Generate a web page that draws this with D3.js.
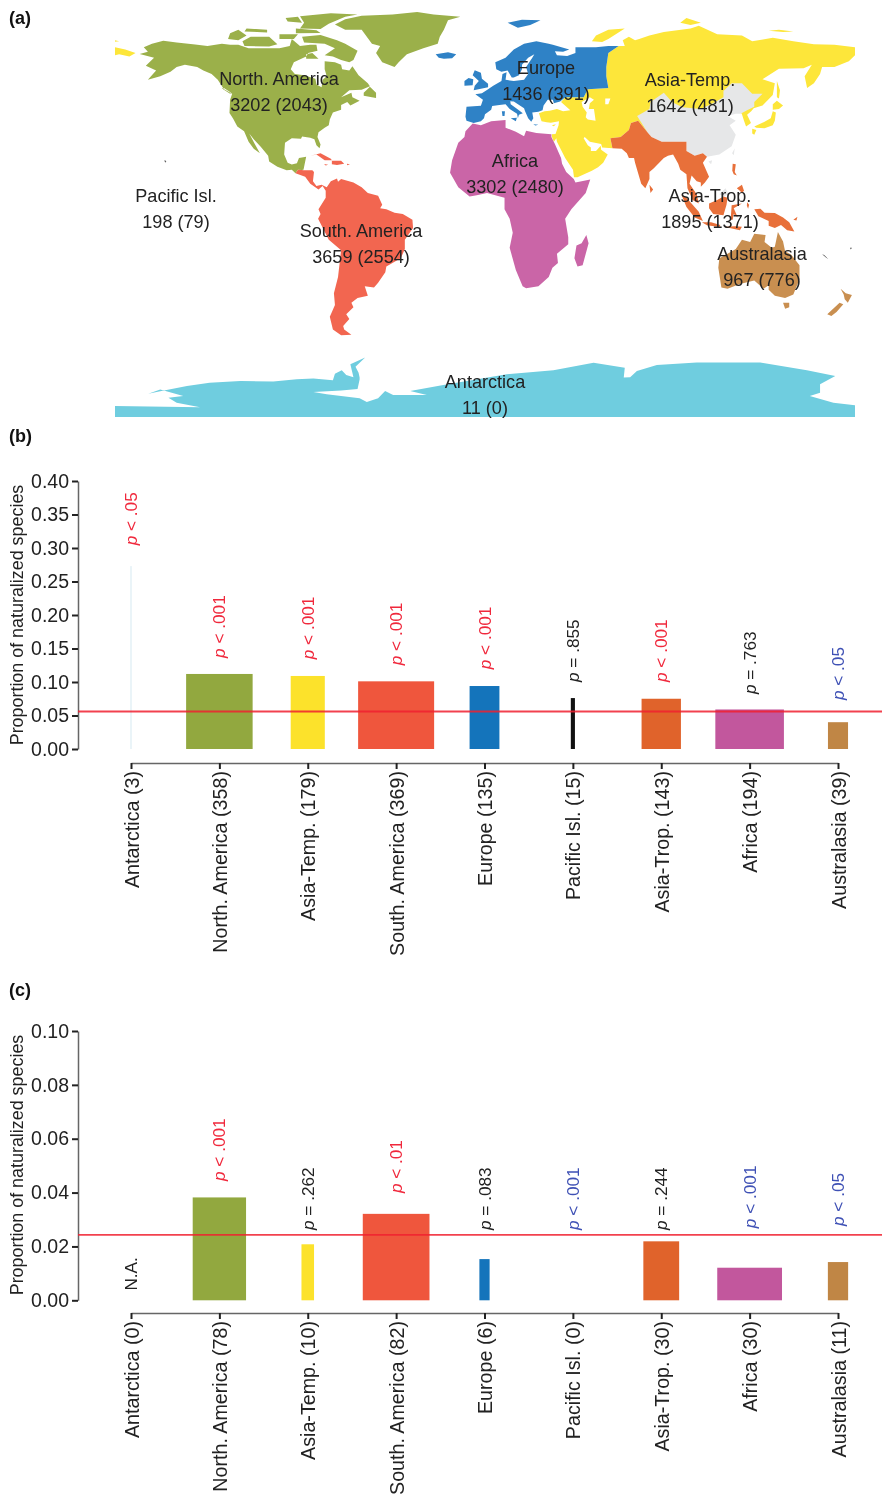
<!DOCTYPE html>
<html>
<head>
<meta charset="utf-8">
<script src="https://cdn.jsdelivr.net/npm/d3@7"></script>
<style>
    html, body { margin: 0; padding: 0; background: #fff; }
    svg { display: block; filter: blur(0.4px); }
    text { font-family: "Liberation Sans", Arial, sans-serif; fill: #222; }
    .axis path.domain { stroke: #666; stroke-width: 1.5; fill: none; }
    .axis .tick line { stroke: #222; stroke-width: 2; }
</style>
</head>
<body>
<div id="chart"></div>
<script>
/* ===== Data ===== */
const regions = ["Antarctica", "North. America", "Asia-Temp.", "South. America", "Europe", "Pacific Isl.", "Asia-Trop.", "Africa", "Australasia"];

// map labels: total (naturalized-source) species per region, also sets bar widths
const totalSpecies = [11, 3202, 1642, 3659, 1436, 198, 1895, 3302, 967];
const subsetSpecies = [0, 2043, 481, 2554, 391, 79, 1371, 2480, 776];

const countsB = [3, 358, 179, 369, 135, 15, 143, 194, 39];
const valuesB = [0.273, 0.112, 0.109, 0.101, 0.094, 0.076, 0.075, 0.059, 0.040];
const pTextB = ["< .05", "< .001", "< .001", "< .001", "< .001", "= .855", "< .001", "= .763", "< .05"];
const pColorB = ["red", "red", "red", "red", "red", "black", "red", "black", "blue"];
const pLevelB = [0.304, 0.136, 0.134, 0.125, 0.119, 0.100, 0.100, 0.082, 0.073];
const meanB = 0.056;
const ticksB = [0, 0.05, 0.10, 0.15, 0.20, 0.25, 0.30, 0.35, 0.40];

const countsC = [0, 78, 10, 82, 6, 0, 30, 30, 11];
const valuesC = [0, 0.0382, 0.0208, 0.0321, 0.0153, 0, 0.0219, 0.0121, 0.0142];
const pTextC = [null, "< .001", "= .262", "< .01", "= .083", "< .001", "= .244", "< .001", "< .05"];
const pColorC = [null, "red", "black", "red", "black", "blue", "black", "blue", "blue"];
const pLevelC = [0.0036, 0.0443, 0.0261, 0.0398, 0.0261, 0.0261, 0.0261, 0.0268, 0.0276];
const meanC = 0.0243;
const ticksC = [0, 0.02, 0.04, 0.06, 0.08, 0.10];

/* ===== Region outlines, lon/lat ===== */
const northAmericaLand = [
    [[-168,65.6],[-164,66.5],[-166,68.5],[-162,70],[-156.5,71.3],[-150,70.5],[-141,69.6],[-135,69],[-128,70],[-124,69.5],[-120,69.5],[-115,68],[-108,68],[-100,68],[-95,69],[-94,72],[-90,69],[-85,69.5],[-82,69.5],[-81.5,67],[-86,66],[-87,64.5],[-93,62],[-94.5,59],[-92.5,57],[-88,56.5],[-82.5,55],[-82,52.5],[-79.5,51.3],[-79,54.5],[-77,56],[-78,59],[-78,62.5],[-73,62],[-70,61],[-69.5,59],[-66,58.5],[-64.5,60.3],[-61.5,56.5],[-57,53],[-56,51.7],[-60,50.2],[-66,50],[-70,47],[-65,49],[-64.5,47],[-61,45.5],[-65.5,43.5],[-67,45],[-70,43.7],[-70,41.7],[-74,40.5],[-75.5,37.5],[-76,35],[-78,34],[-81,32],[-81.5,30],[-80,26.8],[-80.5,25.2],[-82,26.5],[-83,29],[-85,29.7],[-89,30.2],[-89.5,29.2],[-94,29.5],[-97.3,27.5],[-97.7,22.5],[-96,19],[-94,18.2],[-91.5,18.7],[-90.5,21],[-87,21.5],[-87.7,18.5],[-88.3,16],[-89.2,15.9],[-91,16],[-92.2,14.5],[-94,16],[-96.5,15.7],[-101,17.3],[-105,19.5],[-105.5,22],[-109,25.7],[-112.5,29],[-114.7,31.5],[-112,27],[-109.5,23],[-112.5,25],[-115,28],[-117.2,32.5],[-120.5,34.5],[-122.5,37.8],[-124.3,40.3],[-124,46],[-123,48.5],[-127,50.5],[-130,54.5],[-133,57],[-137,58.5],[-140,60],[-146,61],[-150,60],[-153,58],[-158,56],[-164,54.5],[-160,58.5],[-165,60.5],[-161,64]],
    [[-80,73.7],[-72,71.5],[-68,70],[-62,67],[-64,63],[-66,62],[-70,63],[-74,64.5],[-78,65],[-73,68],[-78,70],[-88,70.5],[-89,73]],
    [[-117,69],[-105,68.8],[-101,69.8],[-105,73],[-114,73],[-118,71]],
    [[-125,72],[-120,71.5],[-116,73.5],[-120,76],[-124,74.5]],
    [[-90,76.5],[-80,76.3],[-76,78.5],[-68,81.5],[-62,82.5],[-75,83],[-90,81.8],[-88,79]],
    [[-92,74.5],[-80,74.6],[-82,75.8],[-92,76.5]],
    [[-96,79.5],[-89,79],[-91,81.5],[-97,81]],
    [[-117,75.2],[-106,74.8],[-106,76],[-116,76.5]],
    [[-100,72],[-93,72],[-91,74],[-100,74]],
    [[-87,63.5],[-81,63.5],[-84,66],[-87,65.5]],
    [[-59,47.7],[-53,46.7],[-53,49],[-56,51.5],[-59,49]],
    [[-128,50.8],[-124,48.5],[-123.5,49],[-127,51]],
    [[-73,78.2],[-68,76],[-60,76],[-55,70],[-51,69],[-53,66],[-50,62],[-44,60],[-42,62],[-38,65.5],[-30,68],[-23,70],[-22,73],[-20,76],[-18,80],[-12,81.5],[-25,82.5],[-33,83.6],[-45,82.5],[-60,82],[-68,80.5]]
];
const southAmericaLand = [
    [[-92.2,14.5],[-91,16],[-89.2,15.9],[-88.3,15.8],[-84,15.8],[-83.2,15],[-83.7,11],[-82,9],[-79.5,9.5],[-77,8.5],[-75,11],[-72,12.2],[-71.5,10.8],[-70,12],[-64,10.5],[-60,8.5],[-57,6],[-52,4.8],[-50,1],[-51,-0.5],[-48,-1],[-44,-2.5],[-40,-3],[-35.3,-5.5],[-35,-9],[-39,-14],[-39,-18],[-41,-22],[-48,-25.5],[-48.5,-28],[-52,-32.5],[-54,-34.5],[-58.5,-34],[-57,-38],[-62,-39],[-65,-41],[-64,-43],[-67.5,-46],[-66,-48],[-69,-51],[-68.5,-52.5],[-65,-54.8],[-70,-55],[-74,-52.5],[-75.5,-47],[-73,-42],[-73.5,-37],[-71.5,-30],[-70,-18.5],[-76,-14],[-81.2,-5],[-80,-3],[-81,-1],[-77.5,4],[-77.5,7],[-79,9],[-81,7.5],[-85,10],[-87.5,13]],
    [[-85,22],[-80,23],[-75,20.7],[-74.5,20],[-78,20],[-82,22.5]],
    [[-74.5,19.8],[-70,19.8],[-68.5,18.5],[-72,18],[-74.5,18.3]],
    [[-78.3,18.4],[-76.3,18.1],[-77.5,17.8]],
    [[-67.2,18.5],[-65.7,18.3],[-67,17.9]]
];
const europeLand = [
    [[-9,37],[-9.5,38.7],[-9,43],[-2,43.4],[-1,46],[-4.7,48.3],[-1.5,48.7],[1.5,50.5],[4,52],[8,54],[8.5,57],[10.5,57.7],[10,54.5],[14,54],[19,54.5],[21,57],[20,60],[23,64],[24,65.5],[21,64],[18,61],[18,59],[16.5,56.5],[14,55.5],[13,55.5],[11,58.5],[8,58],[5.5,59],[5,62],[10,64],[14,67.5],[19,70],[25,71],[31,70],[33,69.5],[41,67.5],[38,66.5],[34,66.8],[35,65],[40,64.7],[44,66],[44,68.5],[54,68.5],[60,69],[65,69],[60,66],[59,60],[59,56],[60,51],[50,50.5],[48,47],[39,47],[37,45.5],[36.5,45.2],[33.5,44.5],[33,46],[30.5,46],[28.5,43.5],[28,41.5],[26,40.8],[23,40.5],[23.5,38],[22.5,36.5],[21,38],[19.5,41],[19,42.3],[14,45.2],[12.3,45.3],[12.5,44],[16,41.8],[18.4,40.2],[16.5,39.5],[16,38],[15.6,40],[12,42],[10,44],[7,43.7],[3.5,43.3],[3,41.7],[0,39.7],[-0.5,38],[-2,36.8],[-5.5,36]],
    [[-5.5,50],[1.5,51.3],[1.5,52.8],[-1.5,55],[-2,57.5],[-5,58.6],[-6,56.5],[-3,54],[-5,52]],
    [[-10,52],[-6,52.2],[-5.7,54.7],[-8,55.3],[-10,54]],
    [[-24,65.5],[-18,66.3],[-14,65.5],[-16,63.8],[-20,63.5],[-22.5,64]],
    [[11,79],[16,76.8],[22,78],[27,80],[18,80.3]],
    [[12.5,38],[15.5,38.2],[15,36.7]],
    [[8.2,41],[9.7,41],[9.5,39],[8.5,39]],
    [[23.5,35.5],[26,35.2],[24.5,34.9]]
];
const asiaTempLand = [
    [[65,69],[68,69],[67,71.5],[70,73],[73,71.5],[75,72],[80,73.5],[87,75],[100,76.5],[104,77.7],[113,74],[125,73.5],[130,71],[140,72.5],[150,71],[160,69.7],[170,69.5],[180,68.5],[180,65],[177,62.5],[170,60],[164,60],[163,57],[160,53],[156.7,51],[155.5,56],[159,61],[155,59.5],[143,59.3],[135,54.7],[141,53],[140,48],[135,43.5],[130.7,42.3],[129.5,41],[127.5,39.5],[129.4,36],[127,34.5],[126,37],[125,39.7],[124,41],[110,38],[95,35],[79,32],[74.5,37],[71,36],[70,33],[66,30],[61,29.5],[62,25.2],[57,25.5],[56.5,27],[51,28],[48.5,30],[48,29.5],[50,26.5],[51.5,25.5],[51.5,24],[54,24],[56.3,26.2],[56.5,24.5],[59.7,22.5],[57.5,19],[55,17],[52,15.5],[45,12.8],[43.3,12.8],[42.8,16],[39,21],[35,28],[34.7,29.5],[33.5,28],[32.6,30],[32.5,31.2],[34.3,31.3],[35.8,35],[36,36.7],[32,36.1],[30,36.3],[27.5,36.8],[26.5,39.5],[26.2,40.2],[29,41],[31.5,41.2],[35,42],[38,41],[41.5,41.5],[37,45],[39,47],[48,47],[50,50.5],[60,51],[59,56],[59,60],[60,66]],
    // caspian and aral, cut out by the even-odd fill
    [[47,45],[51,47],[53,46],[51,44.5],[50.5,42],[53,42],[53.5,39],[53.8,37],[50,37.5],[49,38.5],[49.5,40.5],[47.5,43]],
    [[58.5,46.5],[61,46.5],[60,44],[58.5,44]],
    // chukotka past the date line, arctic islands, sakhalin, japan
    [[-180,68.5],[-175,67.5],[-170,66],[-173,64.5],[-178,65.5],[-180,65]],
    [[-180,71.5],[-178,71],[-180,70.8]],
    [[52,71],[57,70.7],[60,72],[68,76.5],[60,76],[54,73.5]],
    [[95,79],[100,78],[105,79],[98,81]],
    [[138,75.5],[145,75],[150,75.2],[143,76]],
    [[142,54],[143.5,50],[143,46.5],[142,47],[142,52]],
    [[140,44],[142,45.5],[145,43.5],[143,42],[140,41.7]],
    [[140,41],[141.5,40.5],[141,37],[140,35],[136,33.7],[132,34],[131,34.5],[136,36.5],[139,38]],
    [[130,33.5],[132,33],[131,31],[130,31.5]],
    [[32.5,35],[34.5,35.5],[33.5,34.6]]
];
const chinaLand = [
    [[122,40],[118,39],[122,37],[119,35],[122,31],[120,26],[114,22.5],[108,21.5],[106,23],[102,22],[98,24],[98,28],[92,28],[86,28],[81,30],[79,32],[74,39],[80,42],[80.5,45],[87,49],[91,45],[96,42.7],[105,42],[112,45],[116,47],[116,49.7],[120,53],[125,53],[130,48.5],[135,48.5],[131,45],[131,43],[127.5,41.5],[124.3,40]],
    [[120.2,23],[121.5,25.2],[121,22.2]],
    [[108.7,19.5],[110.5,20],[110,18.3]],
    [[114,5.5],[117,8],[118.5,5.5],[116,4.5]]
];
const asiaTropLand = [
    [[62,25.2],[61,29.5],[66,30],[70,33],[71,36],[74.5,37],[79,32],[81,30],[86,28],[92,28],[98,28],[98,24],[102,22],[106,23],[108,21.5],[106,19],[109,13],[107,10.5],[105,8.7],[105,10.5],[103,11],[100.5,13.5],[99.5,10],[103,5.5],[104,1.5],[101,3],[98.5,8],[98,14],[95,16],[94,18.5],[91.5,22.5],[89,22],[87,21],[82,16.5],[80,15],[80,12],[78,8],[76,10],[73,19],[72.5,21],[70,21],[69,23],[66.5,25]],
    [[80,9.5],[81.8,7.5],[80.5,6]],
    [[95.5,5.5],[98,4],[104,-2],[106,-6],[102,-4.5],[98,0]],
    [[105.5,-6.5],[110,-6.5],[114.5,-7.7],[114,-8.6],[108,-7.8]],
    [[109,1.5],[113,3],[116,4.5],[118,4],[117.5,1],[116,-3.5],[111,-3],[109,-0.5]],
    [[119.5,-5.5],[120,0.7],[125,1.5],[121,-0.5],[123,-4.5],[121,-3],[120.5,-5.5]],
    [[120.5,18.5],[122,18.3],[121.5,15],[122.5,13.5],[121,14],[120.3,15.5]],
    [[122.5,8],[125,9.5],[126,7],[125,6],[124,7]],
    [[131,-1],[134,-0.8],[136,-2.5],[141,-2.6],[145,-4.5],[148,-6.5],[150.5,-10.5],[147,-10],[144,-7.7],[141,-9],[138,-8],[138,-6],[133,-4]],
    [[127.5,2],[128.5,1],[128,-0.8],[127.4,0.5]],
    [[116,-8.5],[122,-8.2],[125,-8.5],[124,-10],[119,-9]],
    [[150,-5.5],[152,-4.2],[151.5,-5.8]]
];
const africaLand = [
    [[-6,35.8],[-2,35],[3,36.8],[10,37.3],[10,34],[15,32.3],[19,30.3],[20,32.7],[25,31.7],[32.3,31.2],[32.3,30],[34,27],[37,21],[37.5,18.5],[39.5,15],[43.2,12],[44,10.5],[51.2,11.8],[49,6],[42,-1],[39,-5],[40.5,-13],[40.5,-16],[35,-20],[35.5,-24],[32.8,-26],[31,-30],[26,-34],[20,-34.8],[18.3,-34],[15,-27],[12,-17.5],[13.5,-11],[12,-5],[9.5,-1],[9.5,4],[5,5],[1,6],[-4,5],[-7.5,4.5],[-13,8.5],[-17,14.7],[-16,20],[-13,27.5],[-10,30],[-9.5,32.5]],
    [[49.3,-12],[50.4,-15.5],[47.5,-25],[45,-25.5],[43.5,-22],[44.5,-16.5],[47,-15.5]]
];
const australasiaLand = [
    [[114,-22],[113.5,-26],[115,-34.5],[118,-35],[124,-33],[131,-31.5],[135.5,-35],[138,-33.5],[138,-35.5],[141,-38],[146,-39],[150,-37.5],[153,-31],[153,-25],[149,-20.5],[146,-19],[145,-14.8],[142.5,-10.7],[141,-17],[139.5,-17.5],[136,-15],[136.5,-12],[131,-11.5],[129,-15],[125,-14],[122,-18],[118,-20]],
    [[145,-41],[148,-41],[148,-43],[146,-43.6]],
    [[173,-35],[175.5,-37],[178.5,-37.7],[176.5,-41],[175,-39.5],[174.5,-37.5]],
    [[172.5,-41],[174.3,-41.7],[171,-45],[168.5,-46.7],[166.5,-46]]
];
const pacificLand = [
    [[-156,20],[-155,19.7],[-155.6,19]],
    [[177.5,-17.5],[178.5,-17.5],[178,-18.2]],
    [[164,-20.2],[165,-20.6],[167,-22.3],[166,-21.8]]
];
const antarcticaLand = [
    [[-180,-90],[-180,-85.3],[-138.6,-85.8],[-150,-83.9],[-154,-81.8],[-146.8,-81],[-158,-78.2],[-163.8,-80],[-158,-79],[-145,-76.7],[-134,-75.3],[-119,-74.6],[-103,-74.8],[-91.6,-73.8],[-83.5,-73.5],[-74,-74.3],[-73,-71.5],[-69.7,-70],[-67.5,-72],[-64,-73],[-65.5,-67.4],[-58.3,-64.5],[-63,-68.5],[-61.5,-71],[-61,-73.1],[-61,-73.9],[-62,-78],[-70,-78.6],[-83.5,-79.3],[-77,-80.2],[-61,-82],[-57.5,-83.6],[-52,-82],[-48.6,-78.9],[-44.7,-80.6],[-28.3,-80.6],[-36.4,-78.9],[-20.3,-76.3],[10.6,-71.7],[33.3,-70],[52.8,-66.7],[68,-68.9],[67.5,-73.1],[70.6,-73],[73.9,-70.3],[83.6,-67.7],[103,-66.6],[133.9,-66.6],[156.6,-70],[170.4,-72.4],[163,-76],[163,-79.6],[158,-81],[169.5,-83.9],[180,-85],[180,-90]]
];

const mapRegions = [
    {land: northAmericaLand, color: "#9bb04a"},
    {land: southAmericaLand, color: "#f26650"},
    {land: asiaTempLand, color: "#fde63a"},
    {land: chinaLand, color: "#e6e7e8"},
    {land: asiaTropLand, color: "#e8703a"},
    {land: europeLand, color: "#2f82c6"},
    {land: africaLand, color: "#ca65a7"},
    {land: australasiaLand, color: "#c98f50"},
    {land: pacificLand, color: "#555"},
    {land: antarcticaLand, color: "#6fcddf"}
];

/* ===== Constants ===== */
const width = 882;
const height = 1495;
const barColors = ["#d5e9f1", "#92a83f", "#fce22b", "#ef563d", "#1474bb", "#111111", "#e0632b", "#c2579d", "#c08645"];
const pColors = {red: "#f0283c", black: "#222", blue: "#3f51b5"};

// centre of the two text lines for each region on the map
const mapLabelPos = [[485, 382], [279, 79], [690, 80], [361, 231], [546, 68], [176, 196], [710, 196], [515, 161], [762, 254]];

const svg = d3.select("#chart").append("svg")
    .attr("width", width)
    .attr("height", height);

/* ===== Panel letters ===== */
[["(a)", 18], ["(b)", 436], ["(c)", 990]].forEach(([t, y]) => {
    svg.append("text").attr("x", 9).attr("y", y + 6)
        .attr("font-size", 18).attr("font-weight", "bold").style("fill", "#111").text(t);
});

/* ===== Panel a: map ===== */
const lonScale = d3.scaleLinear().domain([-180, 180]).range([115, 855]);
const latScale = d3.scaleLinear().domain([0, -90]).range([207, 417]);
const mapPath = d3.geoPath(d3.geoTransform({
    point(lon, lat) { this.stream.point(lonScale(lon), latScale(lat)); }
}));

// GeoJSON rings have to repeat their first point
svg.append("g").selectAll("path")
    .data(mapRegions)
    .join("path")
    .attr("d", d => mapPath({type: "MultiPolygon", coordinates: d.land.map(ring => [ring.concat([ring[0]])])}))
    .attr("fill", d => d.color)
    .attr("fill-rule", "evenodd");

const mapLabels = svg.append("g").attr("text-anchor", "middle").attr("font-size", 18.1);
regions.forEach((name, i) => {
    const [cx, cy] = mapLabelPos[i];
    mapLabels.append("text").attr("x", cx).attr("y", cy + 6).text(name);
    mapLabels.append("text").attr("x", cx).attr("y", cy + 32).text(`${totalSpecies[i]} (${subsetSpecies[i]})`);
});

/* ===== Panels b and c: bars ===== */
const x = d3.scalePoint().domain(regions).range([131, 838]);

function drawPanel(cfg) {
    const y = d3.scaleLinear().domain(cfg.domain).range(cfg.yRange);
    const barWidth = d3.scaleLinear().domain([0, d3.max(cfg.widthCounts)]).range([0, cfg.maxBarWidth]);
    const g = svg.append("g");

    // y axis
    g.append("g").attr("class", "axis")
        .attr("transform", "translate(78,0)")
        .call(d3.axisLeft(y).tickValues(cfg.ticks).tickFormat(d3.format(".2f")).tickSize(6).tickSizeOuter(0).tickPadding(3))
        .selectAll("text").attr("font-size", 19.5).style("font-family", "'Liberation Sans', Arial, sans-serif");

    g.append("text")
        .attr("transform", `translate(23,${cfg.titleY}) rotate(-90)`)
        .attr("text-anchor", "middle")
        .attr("font-size", 17.9)
        .text("Proportion of naturalized species");

    // x axis
    const xAxis = g.append("g").attr("class", "axis")
        .attr("transform", `translate(0,${cfg.xAxisY})`)
        .call(d3.axisBottom(x).tickSize(6).tickSizeOuter(0).tickFormat((d, i) => `${d} (${cfg.counts[i]})`));
    xAxis.selectAll("text")
        .attr("transform", "rotate(-90)")
        .attr("text-anchor", "end")
        .attr("x", -8)
        .attr("y", 0)
        .attr("dy", "0.36em")
        .attr("font-size", 19.7)
        .style("font-family", "'Liberation Sans', Arial, sans-serif");

    // bars
    g.append("g").selectAll("rect")
        .data(regions.filter((d, i) => cfg.values[i] > 0))
        .join("rect")
        .attr("x", d => x(d) - Math.max(barWidth(cfg.widthCounts[regions.indexOf(d)]), 1) / 2)
        .attr("width", d => Math.max(barWidth(cfg.widthCounts[regions.indexOf(d)]), 1))
        .attr("y", d => y(cfg.values[regions.indexOf(d)]))
        .attr("height", d => y(0) - y(cfg.values[regions.indexOf(d)]))
        .attr("fill", d => barColors[regions.indexOf(d)]);

    // reference line
    g.append("line")
        .attr("x1", 78).attr("x2", width)
        .attr("y1", y(cfg.mean)).attr("y2", y(cfg.mean))
        .attr("stroke", "#f0202f").attr("stroke-width", 1.8).attr("stroke-opacity", 0.85);

    // p labels
    regions.forEach((name, i) => {
        const label = g.append("text")
            .attr("transform", `translate(${x(name) + 6},${y(cfg.pLevels[i])}) rotate(-90)`)
            .attr("font-size", 17.2);
        if (cfg.pTexts[i] === null) {
            label.style("fill", "#222").text("N.A.");
            return;
        }
        label.style("fill", pColors[cfg.pColors[i]]);
        label.append("tspan").attr("font-style", "italic").text("p");
        label.append("tspan").text(" " + cfg.pTexts[i]);
    });
}

drawPanel({
    domain: [0, 0.40], yRange: [749, 481], ticks: ticksB, titleY: 615, xAxisY: 763,
    counts: countsB, values: valuesB, widthCounts: totalSpecies, maxBarWidth: 76,
    mean: meanB, pTexts: pTextB, pColors: pColorB, pLevels: pLevelB
});
drawPanel({
    domain: [0, 0.10], yRange: [1300.3, 1031], ticks: ticksC, titleY: 1165, xAxisY: 1313,
    counts: countsC, values: valuesC, widthCounts: subsetSpecies, maxBarWidth: 66.7,
    mean: meanC, pTexts: pTextC, pColors: pColorC, pLevels: pLevelC
});
</script>
</body>
</html>
